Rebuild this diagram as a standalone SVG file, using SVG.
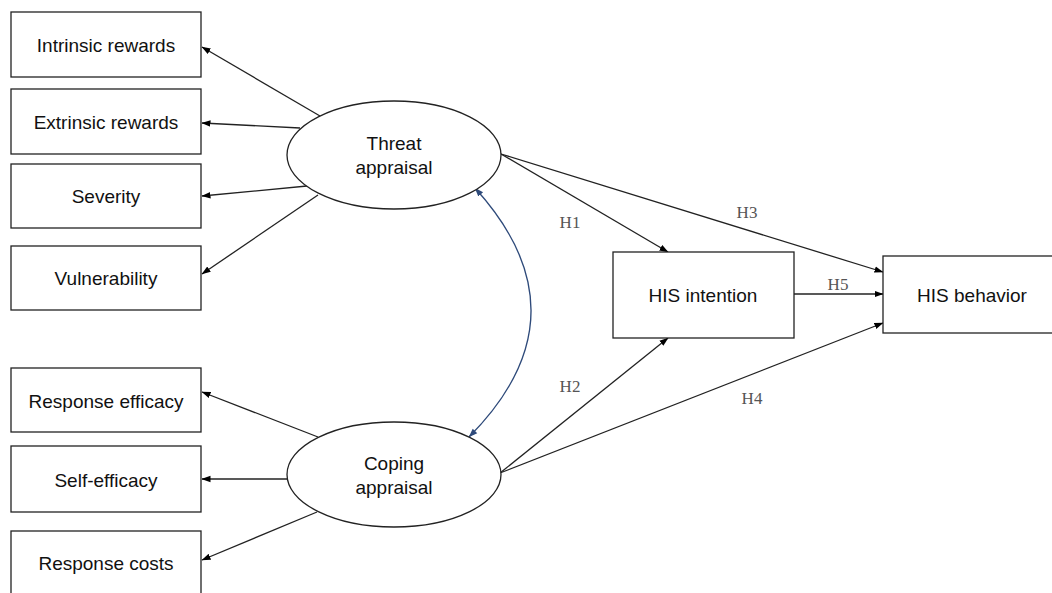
<svg xmlns="http://www.w3.org/2000/svg" width="1052" height="593" viewBox="0 0 1052 593">
<defs>
<marker id="ah" markerWidth="9" markerHeight="8" refX="8.5" refY="4" orient="auto" markerUnits="userSpaceOnUse">
<path d="M0,0.8 L9,4 L0,7.2 Z" fill="#000"/>
</marker>
<marker id="bh" markerWidth="9" markerHeight="8" refX="8.5" refY="4" orient="auto-start-reverse" markerUnits="userSpaceOnUse">
<path d="M0,0.8 L9,4 L0,7.2 Z" fill="#2E4A7A"/>
</marker>
<style>
.box{fill:#fff;stroke:#222;stroke-width:1.3}
.ell{fill:#fff;stroke:#222;stroke-width:1.3}
.t{font-family:"Liberation Sans",Arial,sans-serif;font-size:19px;fill:#111;text-anchor:middle;dominant-baseline:central}
.h{font-family:"Liberation Serif","Times New Roman",serif;font-size:17px;fill:#555;text-anchor:middle;dominant-baseline:central}
.c{stroke:#222;stroke-width:1.3;fill:none;marker-end:url(#ah)}
.cv{stroke:#2E4A7A;stroke-width:1.3;fill:none;marker-start:url(#bh);marker-end:url(#bh)}
</style>
</defs>
<rect width="1052" height="593" fill="#fff"/>
<g id="connectors">
<line class="c" x1="320" y1="116" x2="202" y2="47"/>
<line class="c" x1="300" y1="128" x2="202" y2="123"/>
<line class="c" x1="307" y1="186" x2="202" y2="196"/>
<line class="c" x1="318" y1="195" x2="202" y2="274"/>
<line class="c" x1="318" y1="437" x2="202" y2="392"/>
<line class="c" x1="288" y1="479" x2="202" y2="479"/>
<line class="c" x1="317" y1="512" x2="202" y2="560"/>
<line class="c" x1="501" y1="154" x2="668" y2="252"/>
<line class="c" x1="501" y1="154" x2="883" y2="272"/>
<line class="c" x1="794" y1="294" x2="883" y2="294"/>
<line class="c" x1="500" y1="473" x2="668" y2="338"/>
<line class="c" x1="500" y1="473" x2="883" y2="323"/>
<path class="cv" d="M475,188 Q590,315 469,437"/>
<text class="h" x="570" y="222">H1</text>
<text class="h" x="570" y="386">H2</text>
<text class="h" x="747" y="212">H3</text>
<text class="h" x="752" y="398">H4</text>
<text class="h" x="838" y="284">H5</text>
</g>
<g id="intrinsic"><rect class="box" x="11" y="12" width="190" height="65"/><text class="t" x="106" y="45">Intrinsic rewards</text></g>
<g id="extrinsic"><rect class="box" x="11" y="89" width="190" height="65"/><text class="t" x="106" y="122">Extrinsic rewards</text></g>
<g id="severity"><rect class="box" x="11" y="164" width="190" height="64"/><text class="t" x="106" y="196">Severity</text></g>
<g id="vulnerability"><rect class="box" x="11" y="246" width="190" height="64"/><text class="t" x="106" y="278">Vulnerability</text></g>
<g id="response-efficacy"><rect class="box" x="11" y="368" width="190" height="64"/><text class="t" x="106" y="401">Response efficacy</text></g>
<g id="self-efficacy"><rect class="box" x="11" y="446" width="190" height="66"/><text class="t" x="106" y="480">Self-efficacy</text></g>
<g id="response-costs"><rect class="box" x="11" y="531" width="190" height="70"/><text class="t" x="106" y="563">Response costs</text></g>
<g id="threat"><ellipse class="ell" cx="394" cy="155" rx="107" ry="54"/><text class="t" x="394" y="143">Threat</text><text class="t" x="394" y="167">appraisal</text></g>
<g id="coping"><ellipse class="ell" cx="394" cy="474.5" rx="107" ry="52.5"/><text class="t" x="394" y="463">Coping</text><text class="t" x="394" y="487">appraisal</text></g>
<g id="intention"><rect class="box" x="613" y="252" width="181" height="86"/><text class="t" x="703" y="295">HIS intention</text></g>
<g id="behavior"><rect class="box" x="883" y="256" width="180" height="77"/><text class="t" x="972" y="295">HIS behavior</text></g>
</svg>
